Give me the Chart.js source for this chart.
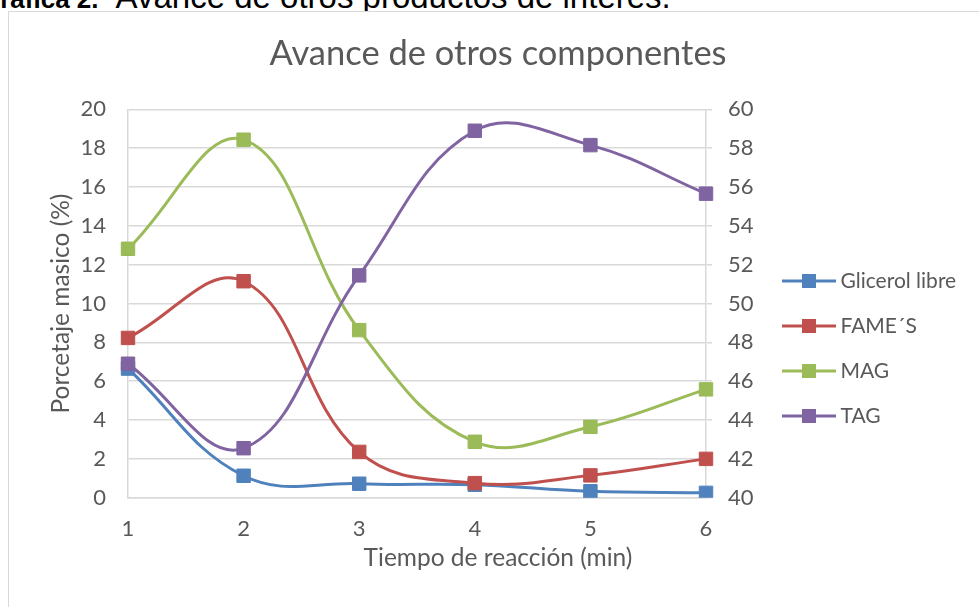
<!DOCTYPE html>
<html>
<head>
<meta charset="utf-8">
<script src="https://cdn.jsdelivr.net/npm/chart.js@4/dist/chart.umd.min.js"></script>
<style>
  html, body { margin: 0; padding: 0; background: #fff; }
  body { width: 979px; height: 607px; position: relative; overflow: hidden; }
  #caption {
    position: absolute; left: -20px; top: -20px; white-space: nowrap;
    font-family: "Liberation Sans", Arial, sans-serif; color: #000; line-height: 33px;
  }
  #caption b { font-size: 26px; }
  #caption span { font-size: 33px; margin-left: 17px; }
  #frame {
    position: absolute; left: 8px; top: 11px; width: 978px; height: 680px;
    border: 1px solid #d9d9d9; background: #fff;
  }
  #chart { display: block; }
</style>
</head>
<body>
<div id="caption"><b>Gráfica 2.</b><span>Avance de otros productos de interés.</span></div>
<div id="frame"><canvas id="chart" width="978" height="673"></canvas></div>
<script>
// Reaction time (min) on the x axis
const tiempos = ['1', '2', '3', '4', '5', '6'];

// Mass percentage (%) of each component, left axis
const glicerolLibre = [6.65, 1.13, 0.72, 0.67, 0.33, 0.25];
const fames = [8.23, 11.15, 2.36, 0.75, 1.15, 2.0];
const mag = [12.82, 18.44, 8.63, 2.88, 3.65, 5.58];

// Triglycerides, plotted against the right axis
const tag = [46.9, 42.55, 51.45, 58.9, 58.16, 55.66];

// Axis ranges
const ejeIzq = { min: 0, max: 20, paso: 2 };
const ejeDer = { min: 40, max: 60, paso: 2 };

const nombres = ['Glicerol libre', 'FAME\u00b4S', 'MAG', 'TAG'];
const colores = ['#4f81bd', '#c0504d', '#9bbb59', '#8064a2'];

const gris = '#595959';
const rejilla = '#d9d9d9';
const fuente = 'Lato, "Open Sans", sans-serif';

// Legend swatch: a short line with a square marker in the middle
function iconoLeyenda(color) {
  const c = document.createElement('canvas');
  c.width = 54; c.height = 16;
  const g = c.getContext('2d');
  g.strokeStyle = color; g.lineWidth = 3;
  g.beginPath(); g.moveTo(0, 8); g.lineTo(54, 8); g.stroke();
  g.fillStyle = color;
  g.fillRect(20, 1, 14, 14);
  return c;
}
const iconos = colores.map(iconoLeyenda);

function serie(i, data, eje, orden) {
  return {
    label: nombres[i],
    data: data,
    yAxisID: eje,
    order: orden,
    borderColor: colores[i],
    backgroundColor: colores[i],
    pointBackgroundColor: colores[i],
    pointBorderColor: colores[i],
    borderWidth: 3,
    pointStyle: 'rect',
    pointRadius: 9.5,
    pointHoverRadius: 9.5,
    pointBorderWidth: 1,
    tension: 0.4,
    fill: false
  };
}

new Chart(document.getElementById('chart'), {
  type: 'line',
  data: {
    labels: tiempos,
    datasets: [
      serie(0, glicerolLibre, 'y', 4),
      serie(1, fames, 'y', 3),
      serie(2, mag, 'y', 2),
      serie(3, tag, 'y2', 1)
    ]
  },
  options: {
    responsive: false,
    animation: false,
    events: [],
    layout: { padding: { left: 22, right: 22, top: 0, bottom: 0 } },
    plugins: {
      title: {
        display: true,
        text: 'Avance de otros componentes',
        color: gris,
        font: { family: fuente, size: 34.5, weight: 'normal' },
        padding: { top: 21, bottom: 35 }
      },
      subtitle: {
        display: true,
        position: 'bottom',
        text: 'Tiempo de reacción (min)',
        color: gris,
        font: { family: fuente, size: 24.5, weight: 'normal' },
        padding: { top: -16.5, bottom: 112 }
      },
      legend: {
        position: 'right',
        align: 'center',
        maxWidth: 201,
        labels: {
          color: gris,
          font: { family: fuente, size: 21 },
          usePointStyle: true,
          pointStyleWidth: 42,
          padding: 24,
          generateLabels: (chart) =>
            Chart.defaults.plugins.legend.labels.generateLabels(chart)
              .map(l => Object.assign(l, { pointStyle: iconos[l.datasetIndex] })),
          sort: (a, b) => a.datasetIndex - b.datasetIndex
        }
      },
      tooltip: { enabled: false }
    },
    scales: {
      x: {
        type: 'category',
        offset: false,
        grid: { display: false, drawTicks: false },
        border: { display: true, color: rejilla, width: 1.5 },
        ticks: { color: gris, font: { family: fuente, size: 22 }, padding: 18, maxRotation: 0 }
      },
      y: {
        position: 'left',
        min: ejeIzq.min, max: ejeIzq.max,
        ticks: { stepSize: ejeIzq.paso, color: gris, font: { family: fuente, size: 22 }, padding: 22 },
        grid: { color: rejilla, lineWidth: 1.5, drawTicks: false },
        border: { display: true, color: rejilla, width: 1.5 },
        title: {
          display: true, text: 'Porcetaje masico (%)', color: gris,
          font: { family: fuente, size: 24.5 }, padding: { top: 15.3, bottom: 0 }
        },
        afterFit: (s) => { s.width = 97; }
      },
      y2: {
        position: 'right',
        min: ejeDer.min, max: ejeDer.max,
        ticks: { stepSize: ejeDer.paso, color: gris, font: { family: fuente, size: 22 }, padding: 16 },
        grid: { drawOnChartArea: false, drawTicks: true, tickLength: 6, color: rejilla, lineWidth: 1.5 },
        border: { display: true, color: rejilla, width: 1.5 },
        afterFit: (s) => { s.width = 58; }
      }
    }
  }
});
</script>
</body>
</html>
